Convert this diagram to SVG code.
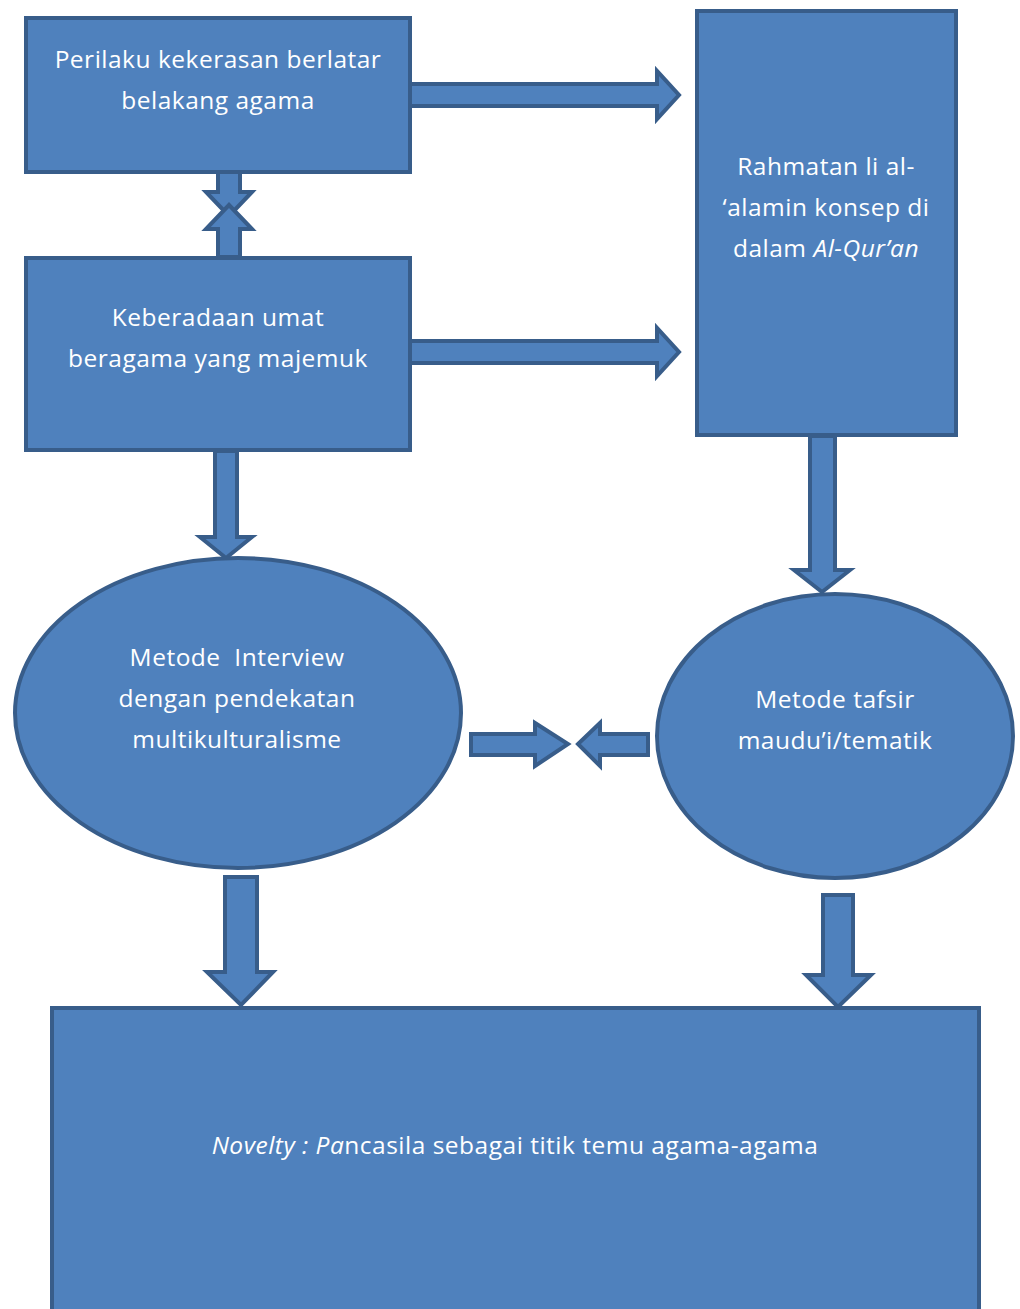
<svg xmlns="http://www.w3.org/2000/svg" width="1020" height="1309" viewBox="0 0 1020 1309">
<style>
.n{fill:#4F81BD;stroke:#385D8A;stroke-width:4}
.a{fill:#4F81BD;stroke:#385D8A;stroke-width:4;stroke-linejoin:miter}
text{font-family:"Open Sans",Lato,"Liberation Sans",sans-serif;font-size:24.5px;letter-spacing:0.5px;fill:#FFFFFF;text-anchor:middle;font-variant-ligatures:none}
.i{font-style:italic}
</style>
<rect width="1020" height="1309" fill="#FFFFFF"/>
<g id="connectors">
<polygon class="a" points="410,84 657,84 657,71 679,95 657,119 657,106 410,106"/>
<polygon class="a" points="410,341 657,341 657,328 679,352 657,376 657,363 410,363"/>
<polygon class="a" points="218,172 240,172 240,192 252,192 229,216 206,192 218,192"/>
<polygon class="a" points="218,257 240,257 240,229 252,229 229,205 206,229 218,229"/>
<polygon class="a" points="215,451 237,451 237,537 252,537 226,558 200,537 215,537"/>
<polygon class="a" points="810,436 835,436 835,570 850,570 822,592 794,570 810,570"/>
<polygon class="a" points="471,734 535,734 535,723 568,744 535,766 535,755 471,755"/>
<polygon class="a" points="648,734 600,734 600,723 578,744 600,766 600,755 648,755"/>
<polygon class="a" points="225,877 257,877 257,972 273,972 241,1005 207,972 225,972"/>
<polygon class="a" points="823,895 853,895 853,975 871,975 838,1007 806,975 823,975"/>
</g>
<g id="box1"><rect class="n" x="26" y="18" width="384" height="154"/>
<text x="218" y="68">Perilaku kekerasan berlatar</text><text x="218" y="109">belakang agama</text></g>
<g id="box2"><rect class="n" x="26" y="258" width="384" height="192"/>
<text x="218" y="326">Keberadaan umat</text><text x="218" y="367">beragama yang majemuk</text></g>
<g id="box3"><rect class="n" x="697" y="11" width="259" height="424"/>
<text x="826" y="175">Rahmatan li al-</text><text x="826" y="216">‘alamin konsep di</text><text x="826" y="257">dalam <tspan class="i">Al-Qur’an</tspan></text></g>
<g id="ellipse1"><ellipse class="n" cx="238" cy="713" rx="223" ry="155"/>
<text x="237" y="666" xml:space="preserve">Metode  Interview</text><text x="237" y="707">dengan pendekatan</text><text x="237" y="748">multikulturalisme</text></g>
<g id="ellipse2"><ellipse class="n" cx="835" cy="736" rx="178" ry="142"/>
<text x="835" y="708">Metode tafsir</text><text x="835" y="749">maudu’i/tematik</text></g>
<g id="novelty"><rect class="n" x="52" y="1008" width="927" height="310"/>
<text x="515" y="1154"><tspan class="i">Novelty : Pa</tspan>ncasila sebagai titik temu agama-agama</text></g>
</svg>
